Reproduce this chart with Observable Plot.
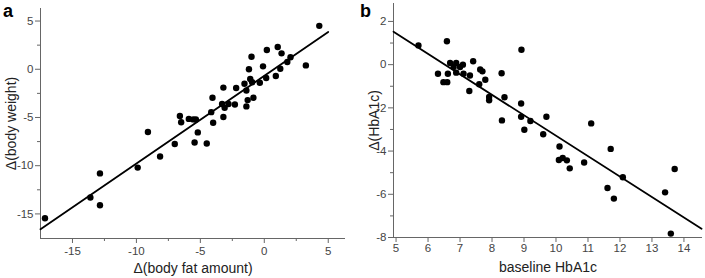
<!DOCTYPE html>
<html><head><meta charset="utf-8">
<script src="https://cdn.jsdelivr.net/npm/d3@7"></script>
<script src="https://cdn.jsdelivr.net/npm/@observablehq/plot@0.6"></script>
<style>
body{margin:0;background:#fff;}
#wrap{position:relative;width:705px;height:278px;display:flex;overflow:hidden;}
.pl{position:absolute;font:bold 18px "Liberation Sans",Arial,sans-serif;color:#000;}
svg [aria-label="x-axis label"], svg [aria-label="y-axis label"]{font-size:14px;fill:#222;}
</style></head><body>
<div id="wrap"><div class="pl" style="left:3px;top:1px">a</div><div class="pl" style="left:360px;top:1px">b</div></div>
<script>
// Panel a: Δ(body fat amount) vs Δ(body weight)
const fatChange = [4.3,1.05,0.2,1.35,-1.0,2.05,1.8,3.25,-0.1,-1.2,1.25,0.9,0.15,-1.1,-0.95,-0.35,-1.55,-3.2,-2.2,-1.4,-4.05,-0.85,-1.3,-3.3,-2.8,-2.3,-3.1,-1.4,-4.15,-3.2,-6.6,-6.5,-5.9,-5.55,-5.35,-4.0,-5.2,-9.1,-7.0,-5.45,-4.5,-8.15,-9.9,-12.85,-13.6,-12.85,-17.15];
const weightChange = [4.5,2.3,2.0,1.65,1.3,1.25,0.75,0.4,0.3,0.0,0.05,-0.7,-0.9,-1.0,-1.35,-1.4,-1.5,-1.9,-1.95,-2.2,-2.95,-2.95,-3.2,-3.6,-3.6,-3.65,-4.0,-3.85,-4.45,-4.95,-4.85,-5.5,-5.15,-5.2,-5.2,-5.55,-6.55,-6.5,-7.75,-7.6,-7.7,-9.05,-10.2,-10.8,-13.3,-14.1,-15.45];
const fitAX = [-17.5, 5.0];
const fitAY = [-16.6, 3.86];
const aXDomain = [-17.5, 6.35];
const aYDomain = [-17.55, 6.3];
const aXTicks = [-15,-10,-5,0,5];
const aXMinor = [-12.5,-7.5,-2.5,2.5];
const aYTicks = [5,0,-5,-10,-15];
const aYMinor = [2.5,-2.5,-7.5,-12.5];

// Panel b: baseline HbA1c vs Δ(HbA1c)
const baselineHbA1c = [5.7,6.59,8.92,7.41,6.69,6.88,7.09,6.80,7.0,7.63,7.70,6.31,6.62,6.88,7.11,7.31,8.30,7.79,6.48,6.60,7.60,7.29,7.91,7.91,8.39,8.91,8.31,8.91,9.20,9.70,9.01,9.60,11.10,10.11,11.71,10.09,10.21,10.34,10.43,10.88,12.09,11.61,11.81,13.41,13.71,13.59];
const hba1cChange = [0.89,1.08,0.69,0.16,0.08,0.08,0.0,-0.11,-0.11,-0.22,-0.31,-0.42,-0.42,-0.37,-0.42,-0.50,-0.40,-0.70,-0.81,-0.81,-0.91,-1.22,-1.50,-1.65,-1.51,-1.80,-2.58,-2.41,-2.61,-2.41,-3.01,-3.22,-2.72,-3.79,-3.90,-4.41,-4.32,-4.43,-4.80,-4.53,-5.21,-5.71,-6.20,-5.91,-4.83,-7.82];
const fitBX = [4.92, 14.55];
const fitBY = [1.52, -7.6];
const bXDomain = [4.92, 14.58];
const bYDomain = [-8, 2.83];
const bXTicks = [5,6,7,8,9,10,11,12,13,14];
const bYTicks = [2,0,-2,-4,-6,-8];
const bYMinor = [1,-1,-3,-5,-7];

const ptsA = fatChange.map((x,i)=>({x, y: weightChange[i]}));
const lineA = fitAX.map((x,i)=>({x, y: fitAY[i]}));
const ptsB = baselineHbA1c.map((x,i)=>({x, y: hba1cChange[i]}));
const lineB = fitBX.map((x,i)=>({x, y: fitBY[i]}));

const fmt = d => `${d}`;
const style = {fontFamily: '"Liberation Sans", Arial, sans-serif', fontSize: "11.5px", color: "#444", background: "#fff", overflow: "visible"};
const axisColor = "#666";

const plotA = Plot.plot({
  width: 350, height: 278,
  marginLeft: 40, marginRight: 5, marginTop: 8, marginBottom: 40,
  x: {domain: aXDomain},
  y: {domain: aYDomain},
  style,
  marks: [
    Plot.ruleY([aYDomain[0]], {stroke: axisColor}),
    Plot.ruleX([aXDomain[0]], {stroke: axisColor}),
    Plot.axisX({ticks: aXTicks, tickSize: 5, tickPadding: 3, tickFormat: fmt, stroke: axisColor,
      label: "Δ(body fat amount)", labelAnchor: "center", labelOffset: 34, labelArrow: "none"}),
    Plot.axisX({ticks: aXMinor, tickSize: 3, text: null, label: null, stroke: axisColor}),
    Plot.axisY({ticks: aYTicks, tickSize: 5, tickPadding: 2, tickFormat: fmt, stroke: axisColor,
      label: "Δ(body weight)", labelAnchor: "center", labelOffset: 34, labelArrow: "none"}),
    Plot.axisY({ticks: aYMinor, tickSize: 3, text: null, label: null, stroke: axisColor}),
    Plot.line(lineA, {x: "x", y: "y", stroke: "#000", strokeWidth: 1.8}),
    Plot.dot(ptsA, {x: "x", y: "y", r: 3.2, fill: "#000"})
  ]
});

const plotB = Plot.plot({
  width: 355, height: 278,
  marginLeft: 43, marginRight: 3, marginTop: 3, marginBottom: 41,
  x: {domain: bXDomain},
  y: {domain: bYDomain},
  style,
  marks: [
    Plot.ruleY([bYDomain[0]], {stroke: axisColor}),
    Plot.ruleX([bXDomain[0]], {stroke: axisColor}),
    Plot.axisX({ticks: bXTicks, tickSize: 5, tickPadding: 1, tickFormat: fmt, stroke: axisColor,
      label: "baseline HbA1c", labelAnchor: "center", labelOffset: 34, labelArrow: "none"}),
    Plot.axisY({ticks: bYTicks, tickSize: 5, tickPadding: 2, tickFormat: fmt, stroke: axisColor,
      label: "Δ(HbA1c)", labelAnchor: "center", labelOffset: 24, labelArrow: "none"}),
    Plot.axisY({ticks: bYMinor, tickSize: 3, text: null, label: null, stroke: axisColor}),
    Plot.line(lineB, {x: "x", y: "y", stroke: "#000", strokeWidth: 1.8}),
    Plot.dot(ptsB, {x: "x", y: "y", r: 3.2, fill: "#000"})
  ]
});

const wrap = document.getElementById("wrap");
wrap.insertBefore(plotA, wrap.firstChild);
wrap.insertBefore(plotB, wrap.children[1]);
</script>
</body></html>
